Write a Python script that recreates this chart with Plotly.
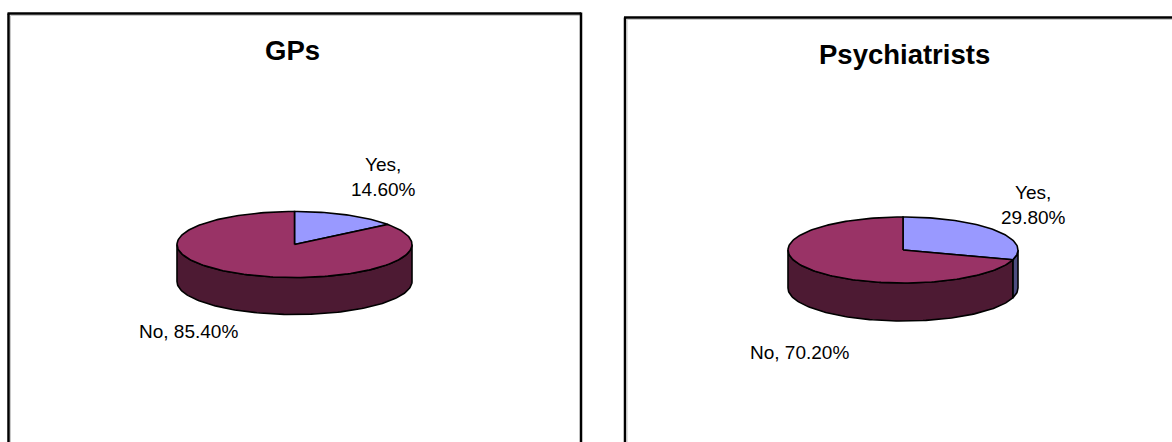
import numpy as np
import plotly.graph_objects as go

# Survey answers per group (percent)
panel_titles = ["GPs", "Psychiatrists"]
categories = ["Yes", "No"]
gps_values = [14.6, 85.4]
psychiatrists_values = [29.8, 70.2]

TOP_COLORS = {"Yes": "#9999FF", "No": "#993366"}
SIDE_COLORS = {"Yes": "#4D4D80", "No": "#4D1A33"}
FONT = "Liberation Sans, Arial, sans-serif"

# Pixel-space layout for each panel: frame, pie ellipse, title and label spots
panels = [
    dict(title=panel_titles[0], values=gps_values,
         frame=(8.5, 13.5, 581), cx=294.5, cy=244.5, rx=117.5, ry=33, depth=37,
         title_xy=(292, 50),
         label_xy={"Yes": (383.5, 177), "No": (188, 331)},
         label_fmt={"Yes": "{c},<br>{v:.2f}%", "No": "{c}, {v:.2f}%"}),
    dict(title=panel_titles[1], values=psychiatrists_values,
         frame=(625, 17.5, None), cx=903, cy=250, rx=115, ry=33, depth=38,
         title_xy=(904, 54),
         label_xy={"Yes": (1033, 205), "No": (799, 352)},
         label_fmt={"Yes": "{c},<br>{v:.2f}%", "No": "{c}, {v:.2f}%"}),
]


def arc(cx, cy, rx, ry, a0, a1, dy=0.0):
    """Points on a tilted ellipse, angles in degrees clockwise from 12 o'clock."""
    n = max(3, int(abs(a1 - a0) / 1.5) + 2)
    t = np.radians(np.linspace(a0, a1, n))
    return cx + rx * np.sin(t), cy - ry * np.cos(t) + dy


fig = go.Figure()
annotations = []
shapes = []

for p in panels:
    vals = np.asarray(p["values"], dtype=float)
    bounds = np.concatenate([[0.0], np.cumsum(vals) / vals.sum() * 360.0])
    cx, cy, rx, ry, d = p["cx"], p["cy"], p["rx"], p["ry"], p["depth"]

    # outer walls: only the front half (90..270 deg) faces the viewer
    for cat, a0, a1 in zip(categories, bounds[:-1], bounds[1:]):
        lo, hi = max(a0, 90.0), min(a1, 270.0)
        if hi <= lo:
            continue
        tx, ty = arc(cx, cy, rx, ry, lo, hi)
        bx, by = arc(cx, cy, rx, ry, hi, lo, dy=d)
        xs = np.concatenate([tx, bx, tx[:1]])
        ys = np.concatenate([ty, by, ty[:1]])
        fig.add_trace(go.Scatter(
            x=xs, y=ys, mode="lines", fill="toself",
            fillcolor=SIDE_COLORS[cat], line=dict(color="black", width=1.6),
            hoverinfo="skip", showlegend=False))

    # top faces
    for cat, v, a0, a1 in zip(categories, vals, bounds[:-1], bounds[1:]):
        ax, ay = arc(cx, cy, rx, ry, a0, a1)
        xs = np.concatenate([[cx], ax, [cx]])
        ys = np.concatenate([[cy], ay, [cy]])
        fig.add_trace(go.Scatter(
            x=xs, y=ys, mode="lines", fill="toself",
            fillcolor=TOP_COLORS[cat], line=dict(color="black", width=1.6),
            name=cat, hovertemplate=f"{cat}: {v:.2f}%<extra></extra>",
            showlegend=False))
        lx, ly = p["label_xy"][cat]
        annotations.append(dict(
            x=lx, y=ly, xref="x", yref="y", showarrow=False,
            text=p["label_fmt"][cat].format(c=cat, v=v),
            font=dict(family=FONT, size=19, color="black"),
            xanchor="center", yanchor="middle", align="center"))

    tx, ty = p["title_xy"]
    annotations.append(dict(
        x=tx, y=ty, xref="x", yref="y", showarrow=False,
        text=f"<b>{p['title']}</b>",
        font=dict(family=FONT, size=27.5, color="black"),
        xanchor="center", yanchor="middle"))

    # chart-area frame (runs off the bottom / right of the page)
    left, top, right = p["frame"]
    far_right = right if right is not None else 1172
    line = dict(color="black", width=2.5)
    shade = dict(color="#C8C8C8", width=1)
    shapes.append(dict(type="line", xref="x", yref="y", x0=left, x1=left,
                       y0=top, y1=442, line=line))
    shapes.append(dict(type="line", xref="x", yref="y", x0=left - 1, x1=far_right,
                       y0=top, y1=top, line=line))
    shapes.append(dict(type="line", xref="x", yref="y", x0=left + 2, x1=far_right,
                       y0=top + 2, y1=top + 2, line=shade))
    shapes.append(dict(type="line", xref="x", yref="y", x0=left + 2, x1=left + 2,
                       y0=top + 2, y1=442, line=shade))
    if right is not None:
        shapes.append(dict(type="line", xref="x", yref="y", x0=right, x1=right,
                           y0=top - 1, y1=442, line=line))

fig.update_layout(
    width=1172, height=442,
    margin=dict(l=0, r=0, t=0, b=0),
    paper_bgcolor="white", plot_bgcolor="white",
    xaxis=dict(range=[0, 1172], visible=False, fixedrange=True),
    yaxis=dict(range=[442, 0], visible=False, fixedrange=True),
    annotations=annotations, shapes=shapes,
    showlegend=False,
)

fig.write_html("out.html")
